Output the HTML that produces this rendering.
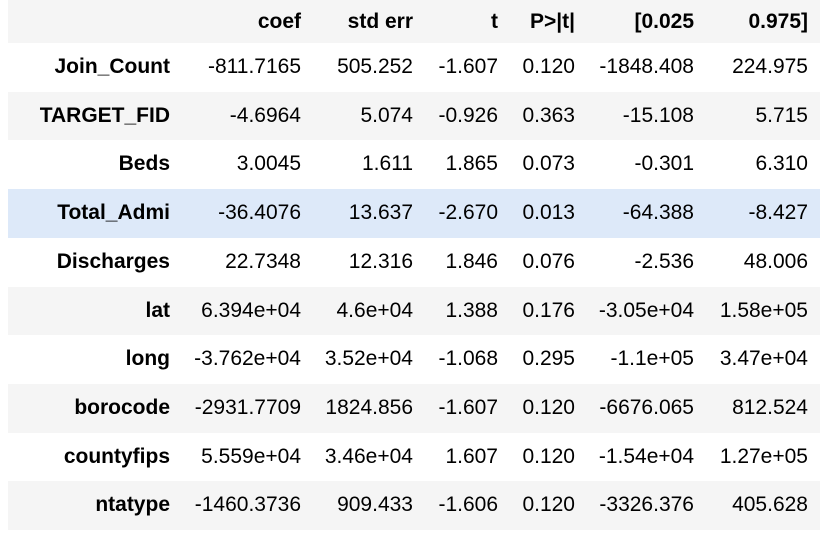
<!DOCTYPE html>
<html><head><meta charset="utf-8"><style>
body{margin:0;width:828px;height:536px;background:#fff;font-family:"Liberation Sans",Arial,sans-serif;overflow:hidden}
.row{position:absolute;left:8px;width:812px}
.c{position:absolute;top:0;text-align:right;font-size:21px;color:#000;white-space:nowrap}
.b{font-weight:bold}
</style></head><body>
<div id="tbl"></div>
<script>
const rowNames=["Join_Count","TARGET_FID","Beds","Total_Admi","Discharges","lat","long","borocode","countyfips","ntatype"];
const headers=["coef","std err","t","P>|t|","[0.025","0.975]"];
const coef=["-811.7165","-4.6964","3.0045","-36.4076","22.7348","6.394e+04","-3.762e+04","-2931.7709","5.559e+04","-1460.3736"];
const stderr=["505.252","5.074","1.611","13.637","12.316","4.6e+04","3.52e+04","1824.856","3.46e+04","909.433"];
const tval=["-1.607","-0.926","1.865","-2.670","1.846","1.388","-1.068","-1.607","1.607","-1.606"];
const pval=["0.120","0.363","0.073","0.013","0.076","0.176","0.295","0.120","0.120","0.120"];
const lo=["-1848.408","-15.108","-0.301","-64.388","-2.536","-3.05e+04","-1.1e+05","-6676.065","-1.54e+04","-3326.376"];
const hi=["224.975","5.715","6.310","-8.427","48.006","1.58e+05","3.47e+04","812.524","1.27e+05","405.628"];
const rights=[170,301,413,498,575,694,808];
const tbl=document.getElementById('tbl');
function mk(top,h,bg,cells,name){
  const r=document.createElement('div');r.className='row';
  
  
  r.style.top=top+'px';r.style.height=h+'px';r.style.background=bg;
  cells.forEach((t,i)=>{
    const c=document.createElement('div');
    c.className='c'+(i===0||name==='header-row'?' b':'');
    
    
    c.textContent=t;
    c.style.right=(820-rights[i])+'px';
    c.style.lineHeight=h+'px';
    r.appendChild(c);
  });
  tbl.appendChild(r);
}
mk(0,43,'#f5f5f5',[''].concat(headers),'header-row');
const rh=48.7;
rowNames.forEach((n,i)=>{
  const bg=i===3?'#dde9f9':(i%2===1?'#f5f5f5':'#fff');
  mk(43+i*rh,rh,bg,[n,coef[i],stderr[i],tval[i],pval[i],lo[i],hi[i]],'row-'+n.toLowerCase().replace('_','-'));
});
</script>
</body></html>
